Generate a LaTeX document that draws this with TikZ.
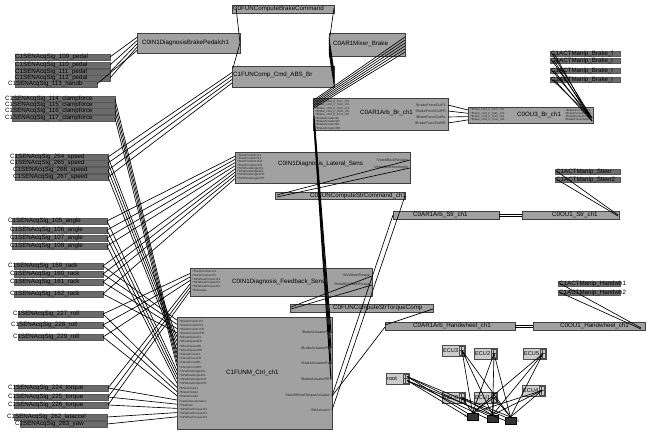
\documentclass[tikz,border=0pt]{standalone}
\usepackage{fontspec}
\setmainfont{Liberation Sans}
\usetikzlibrary{calc}
\tikzset{
 box/.style={draw=black!75, fill=black!37, line width=0.6pt, inner sep=0pt, outer sep=0pt},
 sig/.style={draw=black!65, fill=black!58, line width=0.4pt, inner sep=0pt, outer sep=0pt, minimum height=5.5pt},
 ecu/.style={draw=black!70, fill=black!20, line width=0.5pt, inner sep=0pt, outer sep=0pt, minimum width=23pt, minimum height=11pt},
 cpu/.style={draw=black, fill=black!80, inner sep=0pt, outer sep=0pt, minimum width=11pt, minimum height=7pt},
 conn/.style={draw=black, line width=0.65pt},
 ttl/.style={inner sep=0pt, font=\fontsize{6.2}{7}\selectfont, text=black},
 prt/.style={inner sep=0pt, font=\fontsize{3}{3.4}\selectfont, text=black!85},
 prtb/.style={inner sep=0pt, font=\fontsize{3.6}{4}\selectfont, text=black!85},
}
\newcommand\mkbox[6]{\node[#6, anchor=north west, minimum width={(#4)-(#2)}, minimum height={(#5)-(#3)}] (#1) at (#2,#3) {};}
\newcommand\mktitle[4]{\node[ttl, anchor=west] (#1) at (#2,#3) {#4};}
\begin{document}
\begin{tikzpicture}[x=1pt,y=-1pt]
\fill[white] (0,0) rectangle (649,435);
\useasboundingbox (0,0) rectangle (649,435);

% ---------- signal sources ----------
\foreach \n/\kind/\xt/\xb/\xe/\y in {
 109/pedal/15/15/110/57, 110/pedal/15/15/110/65, 111/pedal/15/15/110/72, 112/pedal/15/15/110/78, 113/handb/8/15/97/84,
 114/clampforce/5/12/115/99, 115/clampforce/5/12/115/105, 116/clampforce/5/12/115/111, 117/clampforce/5/12/115/118,
 264/speed/10/15/108/157, 265/speed/10/15/108/163, 266/speed/13/15/108/170, 267/speed/13/15/108/177,
 105/angle/8/12/107/221, 106/angle/10/12/107/230, 107/angle/10/12/107/238, 108/angle/10/12/107/246,
 159/rack/8/14/103/266, 160/rack/10/14/103/274, 161/rack/10/14/103/282, 162/rack/10/14/103/294,
 227/roll/13/18/103/314, 228/roll/11/18/103/325, 229/roll/13/18/103/337,
 224/torque/8/14/108/388, 225/torque/8/14/108/397, 226/torque/8/14/108/405,
 262/lataccel/7/14/107/417, 263/yaw/15/20/107/424}{
 \node[sig, anchor=west, minimum width={\xe-\xb}] (s\n) at (\xb,\y) {};
 \node[ttl, anchor=west] (t\n) at (\xt,\y) {C1SENAcqSig\_\n\_\kind};
}

% ---------- function boxes ----------
\mkbox{cbc}{232}{5}{334}{13}{box}
\mktitle{cbct}{233}{9}{C0FUNComputeBrakeCommand}
\mkbox{dbp}{137}{33}{240}{53}{box}
\mktitle{dbpt}{142}{43}{C0IN1DiagnosisBrakePedalch1}
\mkbox{mix}{329}{33}{405}{56}{box}
\mktitle{mixt}{333}{44}{C0AR1Mixer\_Brake}
\mkbox{cca}{232}{66}{334}{87}{box}
\mktitle{ccat}{233}{75}{C1FUNComp\_Cmd\_ABS\_Br}
\mkbox{abr}{313}{98}{448}{130}{box}
\mktitle{abrt}{360}{113}{C0AR1Arb\_Br\_ch1}
\mkbox{ou3}{468}{107}{593}{123}{box}
\mktitle{ou3t}{517}{115}{C0OU3\_Br\_ch1}
\mkbox{mb1}{550}{51}{620}{56}{sig}
\mktitle{mb1t}{551}{53.5}{C1ACTManip\_Brake\_f}
\mkbox{mb2}{550}{58}{620}{63}{sig}
\mktitle{mb2t}{551}{60.5}{C1ACTManip\_Brake\_r}
\mkbox{mb3}{550}{68}{620}{73}{sig}
\mktitle{mb3t}{551}{70.5}{C1ACTManip\_Brake\_r}
\mkbox{mb4}{550}{77}{620}{82}{sig}
\mktitle{mb4t}{551}{79.5}{C1ACTManip\_Brake\_r}
\mkbox{lat}{235}{152}{410}{183}{box}
\mktitle{latt}{278}{164}{C0IN1Diagnosis\_Lateral\_Sens}
\mkbox{csc}{275}{192}{405}{199}{box}
\mktitle{csct}{310}{195.5}{C0FUNComputeStrCommand\_ch1}
\mkbox{ast}{393}{211}{499}{219}{box}
\mktitle{astt}{413}{215}{C0AR1Arb\_Str\_ch1}
\mkbox{ous}{522}{211}{619}{219}{box}
\mktitle{oust}{552}{215}{C0OU1\_Str\_ch1}
\mkbox{ms1}{555}{169}{620}{174}{sig}
\mktitle{ms1t}{556}{171.5}{C1ACTManip\_Steer}
\mkbox{ms2}{555}{177}{620}{182}{sig}
\mktitle{ms2t}{556}{179.5}{C1ACTManip\_Steer2}
\mkbox{fbs}{190}{268}{372}{296}{box}
\mktitle{fbst}{232}{282}{C0IN1Diagnosis\_Feedback\_Sens}
\mkbox{tqc}{290}{304}{433}{312}{box}
\mktitle{tqct}{333}{308}{C0FUNComputeStrTorqueComp}
\mkbox{ahw}{385}{322}{515}{330}{box}
\mktitle{ahwt}{413}{326}{C0AR1Arb\_Handwheel\_ch1}
\mkbox{ohw}{533}{322}{645}{330}{box}
\mktitle{ohwt}{560}{326}{C0OU1\_Handwheel\_ch1}
\mkbox{mh1}{558}{281}{620}{286}{sig}
\mktitle{mh1t}{559}{283.5}{C1ACTManip\_Handwh1}
\mkbox{mh2}{558}{290}{620}{295}{sig}
\mktitle{mh2t}{559}{292.5}{C1ACTManip\_Handwh2}
\mkbox{fm}{177}{317}{332}{429}{box}
\mktitle{fmt}{226}{373}{C1FUNM\_Ctrl\_ch1}

% ---------- port texts ----------
\foreach \t [count=\k] in {!BrakeForceOutFL,!BrakeForceOutFR,!BrakeForceOutRL,!BrakeForceOutRR}
 \node[prtb, anchor=east] (abro\k) at (446,99+6*\k) {\t};
\foreach \t [count=\k] in {?Brake\_cmd\_fl\_from\_ch1,?Brake\_cmd\_fr\_from\_ch1,?Brake\_cmd\_rl\_from\_ch1,?Brake\_cmd\_rr\_from\_ch1,?Brake\_cmd\_fl\_from\_ch2,?BrakeActuatorFL,?BrakeActuatorFR,?BrakeActuatorRL,?BrakeActuatorRR}
 \node[prt, anchor=west] (abri\k) at (315,98.5+3.3*\k) {\t};
\foreach \t [count=\k] in {?Brake\_cmd\_fl\_from\_ch1,?Brake\_cmd\_fr\_from\_ch1,?Brake\_cmd\_rl\_from\_ch1,?Brake\_cmd\_rr\_from\_ch1}
 \node[prt, anchor=west] (ou3i\k) at (470,107+3.2*\k) {\t};
\foreach \t [count=\k] in {!BrakeForceOutFL,!BrakeForceOutFR,!BrakeForceOutRL,!BrakeForceOutRR}
 \node[prt, anchor=east] (ou3o\k) at (591,107+3.2*\k) {\t};
\foreach \t [count=\k] in {!BrakeActuatorFL,!BrakeActuatorFR,!BrakeActuatorRL,!BrakeActuatorRR}
 \node[prtb, anchor=east] (fmo\k) at (330,317+15.5*\k) {\t};
\node[prtb, anchor=east] (fmo5) at (330,396) {!HandWheelTorqueActuator};
\node[prtb, anchor=east] (fmo6) at (330,410) {!StrActuator};
\foreach \t [count=\k] in {?RackPosition1FL,?RackPosition2FL,?RackPosition1FR,?RackPosition2FR,?WheelSpeedFL,?WheelSpeedFR,?WheelSpeedRL,?WheelSpeedRR,?ClampForceFL,?ClampForceFR,?ClampForceRL,?ClampForceRR,?StrWheelAngle1FL,?StrWheelAngle2FL,?StrWheelAngle1FR,?StrWheelAngle2FR,?BrakePedal1,?BrakePedal2,?BrakePedal3,?LateralAcceleration,?YawRate,?StrWheelTorque1FL,?StrWheelTorque2FL,?StrWheelTorque3FL}
 \node[prt, anchor=west] (fmi\k) at (179,317+4.2*\k) {\t};
\node[prtb, anchor=east] (lato1) at (408,160) {!VotedRackPosition};
\node[prtb, anchor=east] (lato2) at (408,168) {!VotedStrWheelAngle};
\foreach \t [count=\k] in {?RackPosition1FL,?RackPosition2FL,?RackPosition1FR,?RackPosition2FR,?StrWheelAngle1FL,?StrWheelAngle2FL,?StrWheelAngle1FR,?StrWheelAngle2FR}
 \node[prt, anchor=west] (lati\k) at (237,152+3.3*\k) {\t};
\node[prtb, anchor=east] (fbso1) at (370,276) {!StrWheelTorque};
\node[prtb, anchor=east] (fbso2) at (370,285) {!VotedStrWheelTorque};
\foreach \t [count=\k] in {?RackPosition1FL,?RackPosition2FL,?StrWheelTorque1FL,?StrWheelTorque2FL,?StrWheelTorque3FL,?RollAngle}
 \node[prt, anchor=west] (fbsi\k) at (192,268+3.8*\k) {\t};

% ---------- ECU part ----------
\foreach \nm/\lab/\x/\y in {e3/ECU3/442/345, e2/ECU2/474/348, e5/ECU5/523/348, rt/root/386/373, e0/ECU0/442/392, e1/ECU1/474/392, e4/ECU4/522/385}{
 \node[ecu, anchor=north west] (\nm) at (\x,\y) {};
 \node[inner sep=0pt, anchor=west, font=\fontsize{5.6}{6}\selectfont] (\nm t) at (\x+1,\y+5.5) {\lab};
 \draw[line width=0.3pt, black!70] ($(\nm.north east)+(-6,1)$) rectangle ($(\nm.south east)+(-1,-1)$)
   ($(\nm.east)+(-6,0)$) -- ($(\nm.east)+(-1,0)$)
   ($(\nm.north east)+(-3.5,1)$) -- ($(\nm.south east)+(-3.5,-1)$);
}
\node[cpu, anchor=north west] (c0) at (467,413) {};
\node[cpu, anchor=north west] (c1) at (487,415) {};
\node[cpu, anchor=north west] (c3) at (505,417) {};
\node[inner sep=0pt, anchor=east, font=\fontsize{5}{5}\selectfont, text=black!70] (c0t) at (c0.west) {c};
\node[inner sep=0pt, anchor=west, font=\fontsize{5}{5}\selectfont, text=black!70] (c3t) at (c3.east) {3};

% ---------- connectors ----------
\foreach \s [count=\k] in {109,110,111,112,113}
 \draw[conn] (s\s.east) -- ($(dbp.north west)+(0,1+3.3*\k)$);
\foreach \s [count=\k] in {264,265,266,267}
 \draw[conn] (s\s.east) -- ($(cca.north west)+(0,3+3.5*\k)$);
\foreach \k in {1,...,6}
 \draw[conn] ($(cca.north east)+(0,2+2.8*\k)$) -- ($(mix.north west)+(0,1.5+3*\k)$);
\draw[conn] ($(cbc.north west)+(4,2)$) -- (dbp.east) -- ($(cca.north west)+(1,2)$);
\draw[conn] ($(cbc.north east)+(0,3)$) -- ($(mix.north west)+(1,3)$);
\foreach \k in {1,...,6}
 \draw[conn] ($(mix.north east)+(0,3*\k+1)$) -- ($(abr.north west)+(0,1+1.6*\k)$);
\foreach \k in {0,...,3}
 \draw[conn, line width=1pt] ($(fm.north east)+(-1,16+15.5*\k)$) -- ($(abr.north west)+(1,18+3.5*\k)$);
\foreach \k in {0,...,3}
 \draw[conn] ($(abr.north east)+(0,7+6*\k)$) -- ($(ou3.north west)+(0,3+3.3*\k)$);
\foreach \m in {mb1,mb2,mb3,mb4}{
 \draw[conn] ($(\m.west)+(2,0)$) -- ($(ou3.north east)+(-1,11)$);
 \draw[conn] ($(\m.west)+(4,0)$) -- ($(ou3.north east)+(-1,14)$);
}
\foreach \s [count=\k] in {105,106,107,108,159,160,161,162}
 \draw[conn] (s\s.east) -- ($(lat.north west)+(0,1+3.2*\k)$);
\draw[conn] ($(lat.north east)+(0,8)$) -- ($(csc.north west)+(2,3)$);
\draw[conn] ($(lat.north east)+(0,16)$) -- ($(csc.north west)+(2,5)$);
\foreach \s [count=\k] in {227,228,229,224,225,226}
 \draw[conn] (s\s.east) -- ($(fbs.north west)+(0,2+3.5*\k)$);
\draw[conn] ($(fbs.north east)+(0,8)$) -- ($(tqc.north west)+(1,3)$);
\draw[conn] ($(fbs.north east)+(0,17)$) -- ($(tqc.north west)+(1,5)$);
\foreach \s [count=\k] in {159,160,161,162,264,265,266,267,114,115,116,117,105,106,107,108,227,228,229,224,225,226,262,263}
 \draw[conn] (s\s.east) -- ($(fm.north west)+(0,-1+4.2*\k)$);
\draw[conn] ($(fm.north east)+(0,79)$) -- ($(ast.north west)+(0,4)$);
\draw[conn] ($(fm.north east)+(0,79)$) -- ($(ahw.north west)+(0,5)$);
\draw[conn] ($(fm.north east)+(0,93)$) -- ($(csc.north east)+(0,4)$);
\draw[conn] ($(tqc.north east)+(0,5)$) -- ($(ahw.north west)+(0,3)$);
\draw[conn] ($(ast.north east)+(0,3)$) -- ($(ous.north west)+(0,3)$);
\draw[conn] ($(ast.north east)+(0,5)$) -- ($(ous.north west)+(0,5)$);
\draw[conn] ($(ms1.west)+(2,0)$) -- ($(ous.north east)+(-1,4)$);
\draw[conn] ($(ms2.west)+(2,0)$) -- ($(ous.north east)+(-1,5)$);
\draw[conn] ($(ahw.north east)+(0,3)$) -- ($(ohw.north west)+(0,3)$);
\draw[conn] ($(ahw.north east)+(0,5)$) -- ($(ohw.north west)+(0,5)$);
\draw[conn] ($(mh1.west)+(2,0)$) -- ($(ohw.north east)+(-4,6)$);
\draw[conn] ($(mh2.west)+(2,0)$) -- ($(ohw.north east)+(-4,7)$);
\foreach \e in {e3,e2,e5,e0,e1,e4}
 \foreach \c in {c0,c1,c3}
  \draw[conn] ($(\e.east)+(-3,0)$) -- (\c.north);
\foreach \c in {c0,c1,c3}{
 \draw[conn] ($(rt.east)+(-2,-2)$) -- (\c.north west);
 \draw[conn] ($(rt.east)+(-2,2)$) -- (\c.west);
}
\end{tikzpicture}
\end{document}
